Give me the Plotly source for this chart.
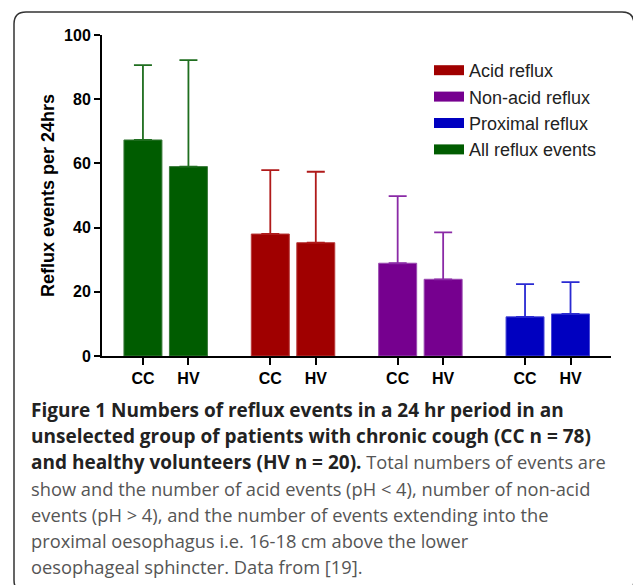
import plotly.graph_objects as go

# ---- data ----
groups = ["All reflux events", "Acid reflux", "Non-acid reflux", "Proximal reflux"]
subjects = ["CC", "HV"]
all_means = [67.3, 59.0]
all_sd = [23.3, 33.2]
acid_means = [38.0, 35.3]
acid_sd = [19.9, 22.1]
nonacid_means = [28.9, 23.9]
nonacid_sd = [20.9, 14.6]
prox_means = [12.2, 13.1]
prox_sd = [10.2, 9.9]
y_ticks = [0, 20, 40, 60, 80, 100]
legend_order = ["Acid reflux", "Non-acid reflux", "Proximal reflux", "All reflux events"]

means = [all_means, acid_means, nonacid_means, prox_means]
sds = [all_sd, acid_sd, nonacid_sd, prox_sd]
bar_colors = ["#005c00", "#a00000", "#76008f", "#0000c0"]
err_colors = ["#1f6e1f", "#b01a1a", "#8a2aa6", "#2a2ad2"]
edge_colors = ["#3a7a3a", "#b83a3a", "#9a4ab0", "#4a4ad8"]

W, H = 633, 585
ML, MR, MT, MB = 102, 22, 35, 229
PW, PH = W - ML - MR, H - MT - MB
GROUP_STEP = 2.8


def px(x):
    return (x - ML) / PW


def py(y):
    return (H - MB - y) / PH


fig = go.Figure()
tickvals, ticktext = [], []
for g, name in enumerate(groups):
    xs = [g * GROUP_STEP + i for i in range(len(subjects))]
    tickvals += xs
    ticktext += subjects
    fig.add_trace(go.Bar(
        x=xs, y=means[g], width=0.835, name=name, showlegend=False,
        marker=dict(color=bar_colors[g], line=dict(color=edge_colors[g], width=1)),
        error_y=dict(type="data", array=sds[g], arrayminus=[0] * len(xs), symmetric=False,
                     color=err_colors[g], thickness=1.8, width=9),
    ))

for name in legend_order:
    g = groups.index(name)
    fig.add_trace(go.Scatter(
        x=[None], y=[None], mode="lines", name=name, legendgroup=name,
        line=dict(color=bar_colors[g], width=14),
    ))

fig.update_layout(
    width=W, height=H,
    margin=dict(l=ML, r=MR, t=MT, b=MB, pad=0),
    paper_bgcolor="white", plot_bgcolor="white",
    barmode="overlay",
    font=dict(family="Liberation Sans, Arial, sans-serif", color="black"),
    showlegend=True,
    legend=dict(x=px(429), y=py(52), xanchor="left", yanchor="top",
                font=dict(size=18, color="#222"), bgcolor="rgba(0,0,0,0)",
                tracegroupgap=0, itemwidth=30),
    xaxis=dict(range=[-0.9, 10.29], tickvals=tickvals, ticktext=ticktext,
               showgrid=False, zeroline=False, showline=True, linecolor="black", linewidth=2,
               ticks="outside", ticklen=7, tickwidth=2, tickcolor="black",
               tickfont=dict(size=16, family="Liberation Sans, Arial", color="black",
                             weight="bold")),
    yaxis=dict(range=[0, 100], tickvals=y_ticks,
               showgrid=False, zeroline=False, showline=True, linecolor="black", linewidth=2,
               ticks="outside", ticklen=6, tickwidth=2, tickcolor="black",
               tickfont=dict(size=16, family="Liberation Sans, Arial", color="black",
                             weight="bold"),
               title=dict(text="<b>Reflux events per 24hrs</b>", standoff=5,
                          font=dict(size=18, family="Liberation Sans, Arial", color="black"))),
)

# rounded frame
x0, x1, y0, y1, r = px(14), px(634), py(12), py(592), 12
rx, ry = r / PW, r / PH
path = (f"M {x0+rx},{y0} L {x1-rx},{y0} Q {x1},{y0} {x1},{y0-ry} "
        f"L {x1},{y1+ry} Q {x1},{y1} {x1-rx},{y1} L {x0+rx},{y1} Q {x0},{y1} {x0},{y1+ry} "
        f"L {x0},{y0-ry} Q {x0},{y0} {x0+rx},{y0} Z")
fig.add_shape(type="path", path=path, xref="paper", yref="paper",
              line=dict(color="#333", width=1.5), layer="below")

# caption
GRAY = "color:#555555;font-size:18.3px"
caption_lines = [
    "<b>Figure 1 Numbers of reflux events in a 24 hr period in an</b>",
    "<b>unselected group of patients with chronic cough (CC n = 78)</b>",
    "<b>and healthy volunteers (HV n = 20).</b>"
    f"<span style='{GRAY}'> Total numbers of events are</span>",
    f"<span style='{GRAY}'>show and the number of acid events (pH &lt; 4), number of non-acid</span>",
    f"<span style='{GRAY}'>events (pH &gt; 4), and the number of events extending into the</span>",
    f"<span style='{GRAY}'>proximal oesophagus i.e. 16-18 cm above the lower</span>",
    f"<span style='{GRAY}'>oesophageal sphincter. Data from [19].</span>",
]
for k, line in enumerate(caption_lines):
    fig.add_annotation(text=line, xref="paper", yref="paper", x=px(29), y=py(410 + 26 * k),
                       xanchor="left", yanchor="middle", showarrow=False,
                       font=dict(family="Open Sans, Noto Sans, sans-serif", size=19, color="#222"))

fig.write_html("out.html", config={"displayModeBar": False},
               post_script="document.body.style.margin='0';")
